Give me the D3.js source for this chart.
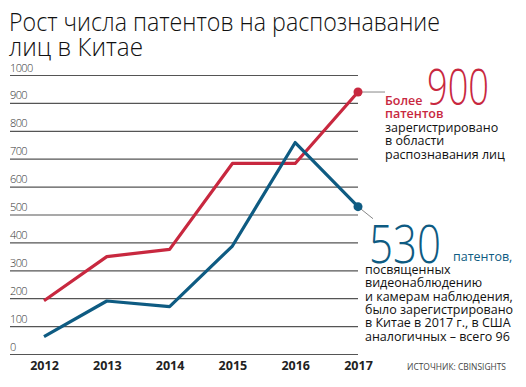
<!DOCTYPE html>
<html>
<head>
<meta charset="utf-8">
<script src="https://cdn.jsdelivr.net/npm/d3@7"></script>
<style>
  body { margin: 0; background: #fff; }
  svg text { font-family: "Open Sans", "Noto Sans", sans-serif; }
</style>
</head>
<body>
<svg id="chart" width="526" height="387"></svg>
<script>
// data
var years = [2012, 2013, 2014, 2015, 2016, 2017];
var facePatents = [191, 349, 375, 683, 683, 939];
var videoPatents = [62, 190, 170, 387, 758, 528];
var yTicks = [0, 100, 200, 300, 400, 500, 600, 700, 800, 900, 1000];

var red = '#c8283f';
var blue = '#0e5b82';

var svg = d3.select('#chart');

var x = d3.scalePoint().domain(years).range([44, 358]);
var y = d3.scaleLinear().domain([0, 1000]).range([354, 75]);

// title
var title = svg.append('g');
title.append('text').attr('x', 9).attr('y', 31)
  .style('font-size', '25px').style('font-weight', 300).style('fill', '#111')
  .attr('textLength', 431).attr('lengthAdjust', 'spacingAndGlyphs')
  .text('Рост числа патентов на распознавание');
title.append('text').attr('x', 9).attr('y', 56)
  .style('font-size', '25px').style('font-weight', 300).style('fill', '#111')
  .attr('textLength', 134).attr('lengthAdjust', 'spacingAndGlyphs')
  .text('лиц в Китае');

// grid + y labels
var yAxis = d3.axisRight(y).tickValues(yTicks).tickSize(348).tickFormat(d3.format('d'));
var gy = svg.append('g').attr('transform', 'translate(10,0)').call(yAxis);
gy.select('.domain').remove();
gy.selectAll('.tick line').attr('stroke', '#555').attr('stroke-width', 1.2);
gy.selectAll('.tick text')
  .attr('x', 0).attr('dy', -4).attr('text-anchor', 'start')
  .style('font-size', '11px').style('font-weight', 300).style('fill', '#333')
  .style('font-family', '"Open Sans", sans-serif')
  .style('letter-spacing', '-0.6px');

// x labels
var xAxis = d3.axisBottom(x).tickSize(0).tickPadding(0);
var gx = svg.append('g').attr('transform', 'translate(0,358)').call(xAxis);
gx.select('.domain').remove();
gx.selectAll('.tick text')
  .attr('dy', 12)
  .style('font-size', '12.5px').style('font-weight', 700).style('fill', '#222')
  .style('font-family', '"Open Sans", sans-serif');

// lines
var line = d3.line().x(function (d, i) { return x(years[i]); }).y(function (d) { return y(d); });

svg.append('path').datum(facePatents).attr('d', line)
  .attr('fill', 'none').attr('stroke', red).attr('stroke-width', 3.2).attr('stroke-linejoin', 'round');
svg.append('path').datum(videoPatents).attr('d', line)
  .attr('fill', 'none').attr('stroke', blue).attr('stroke-width', 3.2).attr('stroke-linejoin', 'round');

var last = years.length - 1;

// connectors
svg.append('line')
  .attr('x1', x(years[last])).attr('y1', y(facePatents[last]))
  .attr('x2', x(years[last]) + 27).attr('y2', y(facePatents[last]))
  .attr('stroke', '#888').attr('stroke-width', 1);
svg.append('line')
  .attr('x1', x(years[last])).attr('y1', y(videoPatents[last]))
  .attr('x2', x(years[last]) + 15).attr('y2', y(videoPatents[last]) + 12)
  .attr('stroke', '#888').attr('stroke-width', 1);

svg.append('circle').attr('cx', x(years[last])).attr('cy', y(facePatents[last]))
  .attr('r', 4.5).attr('fill', red);
svg.append('circle').attr('cx', x(years[last])).attr('cy', y(videoPatents[last]))
  .attr('r', 4.5).attr('fill', blue);

// annotation: face recognition
var a1 = svg.append('g');
a1.append('text').attr('x', 427).attr('y', 105)
  .style('font-size', '49px').style('font-weight', 300).style('fill', red)
  .attr('textLength', 62).attr('lengthAdjust', 'spacingAndGlyphs')
  .text('900');
a1.append('text').attr('x', 385).attr('y', 105)
  .style('font-size', '12.5px').style('font-weight', 600).style('fill', red)
  .text('Более');
a1.append('text').attr('x', 385).attr('y', 118)
  .style('font-size', '12.5px').style('font-weight', 600).style('fill', red)
  .text('патентов');
var a1Lines = ['зарегистрировано', 'в области', 'распознавания лиц'];
a1.selectAll('.l').data(a1Lines).enter().append('text')
  .attr('x', 385).attr('y', function (d, i) { return 132 + i * 13.3; })
  .style('font-size', '12.5px').style('font-weight', 500).style('fill', '#111')
  .text(function (d) { return d; });

// annotation: video surveillance
var a2 = svg.append('g');
a2.append('text').attr('x', 369).attr('y', 263)
  .style('font-size', '53px').style('font-weight', 300).style('fill', blue)
  .attr('textLength', 72).attr('lengthAdjust', 'spacingAndGlyphs')
  .text('530');
a2.append('text').attr('x', 453).attr('y', 261)
  .style('font-size', '12.5px').style('font-weight', 500).style('fill', blue)
  .text('патентов,');
var a2Lines = ['посвященных', 'видеонаблюдению', 'и камерам наблюдения,', 'было зарегистрировано',
  'в Китае в 2017 г., в США', 'аналогичных – всего 96'];
a2.selectAll('.l').data(a2Lines).enter().append('text')
  .attr('x', 365).attr('y', function (d, i) { return 274 + i * 13.3; })
  .style('font-size', '12.5px').style('font-weight', 500).style('fill', '#111')
  .text(function (d) { return d; });

// source
svg.append('text').attr('x', 506).attr('y', 370).attr('text-anchor', 'end')
  .style('font-size', '9px').style('fill', '#444')
  .attr('textLength', 99).attr('lengthAdjust', 'spacingAndGlyphs')
  .text('ИСТОЧНИК: CBINSIGHTS');
</script>
</body>
</html>
